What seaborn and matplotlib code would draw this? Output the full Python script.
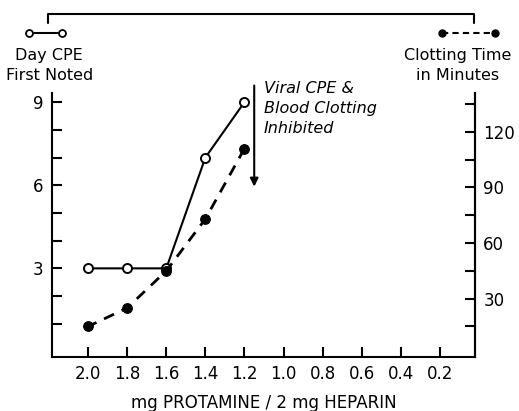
import numpy as np
import pandas as pd
import seaborn as sns
import matplotlib.pyplot as plt
from matplotlib.lines import Line2D

# data
protamine = [2.0, 1.8, 1.6, 1.4, 1.2]
day_cpe = [3, 3, 3, 7, 9]
clot_time = [15, 25, 45, 73, 111]
x_ticks = [2.0, 1.8, 1.6, 1.4, 1.2, 1.0, 0.8, 0.6, 0.4, 0.2]
x_labels = ['2.0', '1.8', '1.6', '1.4', '1.2', '1.0', '0.8', '0.6', '0.4', '0.2']
left_ticks = [3, 6, 9]
right_ticks = [30, 60, 90, 120]

df = pd.DataFrame({'prot': protamine, 'cpe': day_cpe, 'clot': clot_time})

sns.set_style('ticks')
plt.rcParams['font.family'] = ['DejaVu Sans']
for k in ['text.color', 'xtick.color', 'ytick.color', 'axes.labelcolor', 'axes.edgecolor']:
    plt.rcParams[k] = 'black'

fig = plt.figure(figsize=(5.19, 4.11), dpi=100)
ax = fig.add_axes([0.1002, 0.1314, 0.815, 0.6423])
ax2 = ax.twinx()

sns.lineplot(data=df, x='prot', y='cpe', ax=ax, color='black', lw=1.5,
             marker='o', markersize=6.5, markerfacecolor='white',
             markeredgecolor='black', markeredgewidth=1.4, zorder=3)
sns.lineplot(data=df, x='prot', y='clot', ax=ax2, color='black', lw=2,
             linestyle=(0, (4, 3)), marker='o', markersize=7,
             markerfacecolor='black', markeredgecolor='black', zorder=3)

ax.set_xlim(2.185, 0.02)
ax.set_ylim(-0.2, 9.33)
ax2.set_ylim(-1.5, 141)

ax.set_xticks(x_ticks)
ax.set_xticklabels(x_labels)
ax.set_yticks(left_ticks)
ax.set_yticks(np.arange(1, 10), minor=True)
ax2.set_yticks(right_ticks)
ax2.set_yticks(np.arange(15, 140, 15), minor=True)

for a in (ax, ax2):
    a.spines['top'].set_visible(False)
    for s in a.spines.values():
        s.set_linewidth(1.5)
    a.tick_params(direction='in', length=7, width=1.5, labelsize=12, pad=6)
    a.tick_params(which='minor', direction='in', length=7, width=1.5)
    a.set_xlabel('')
    a.set_ylabel('')
ax2.spines['left'].set_visible(False)
ax2.spines['bottom'].set_visible(False)

ax.set_xlabel('mg PROTAMINE / 2 mg HEPARIN', fontsize=12, labelpad=8)

# arrow and annotation
ax.annotate('', xy=(1.15, 5.85), xytext=(1.15, 9.7), annotation_clip=False,
            arrowprops=dict(arrowstyle='-|>', color='black', lw=1.5,
                            mutation_scale=12))
ax.text(1.10, 9.78, 'Viral CPE &\nBlood Clotting\nInhibited', style='italic',
        fontsize=11.5, va='top', ha='left', linespacing=1.45)

# legend bracket at top
fig.add_artist(Line2D([0.0925, 0.0925, 0.913, 0.913], [0.944, 0.966, 0.966, 0.944],
                      color='black', lw=1.5))
fig.add_artist(Line2D([0.056, 0.119], [0.92, 0.92], color='black', lw=1.5,
                      marker='o', markersize=5, markerfacecolor='white',
                      markeredgewidth=1.3))
fig.add_artist(Line2D([0.852, 0.953], [0.92, 0.92], color='black', lw=1.5,
                      linestyle=(0, (3, 2)), marker='o', markersize=5,
                      markerfacecolor='black'))
fig.text(0.095, 0.883, 'Day CPE\nFirst Noted', ha='center', va='top',
         fontsize=11.5, linespacing=1.4)
fig.text(0.882, 0.883, 'Clotting Time\nin Minutes', ha='center', va='top',
         fontsize=11.5, linespacing=1.4)

fig.savefig('out.png', dpi=100)
